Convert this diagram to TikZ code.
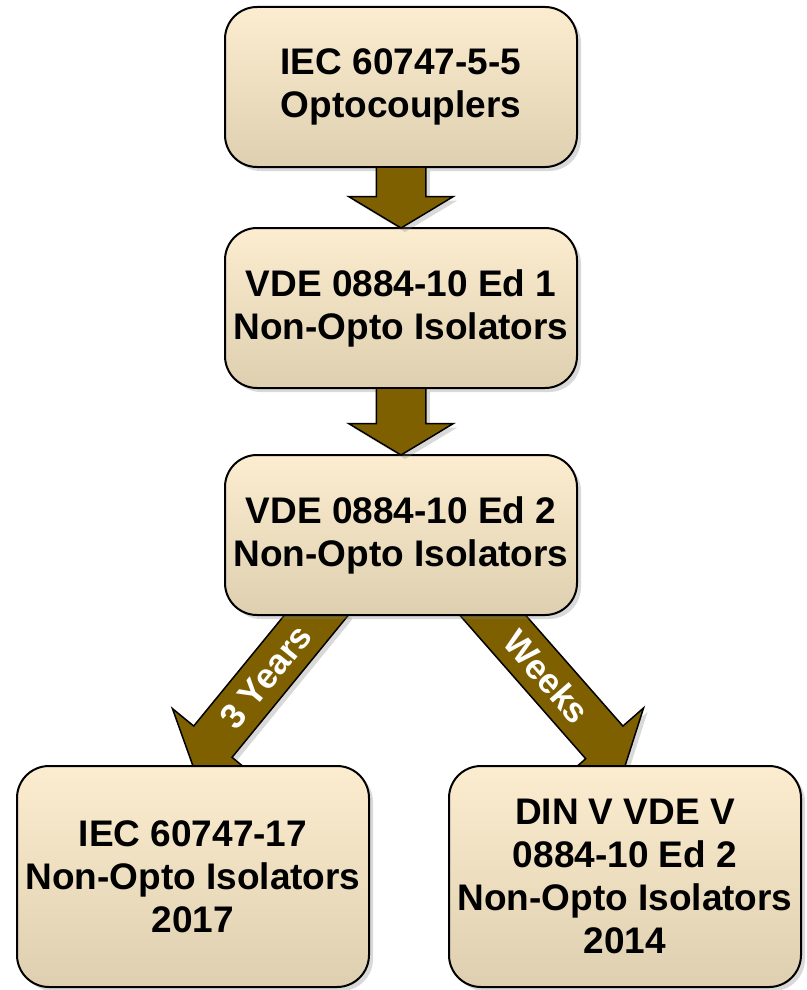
\documentclass[tikz,border=0pt]{standalone}
\usepackage{fontspec}
\setmainfont{Liberation Sans}
\usetikzlibrary{shapes.arrows, positioning, calc, shadows}
\definecolor{boxtop}{RGB}{253,237,208}
\definecolor{boxmid}{RGB}{246,232,203}
\definecolor{boxbottom}{RGB}{221,207,176}
\definecolor{olivearrow}{RGB}{127,96,0}
\pgfdeclarelayer{back}
\pgfsetlayers{back,main}

\begin{document}
\begin{tikzpicture}[x=1pt, y=-1pt,
	stdbox/.style={rectangle, rounded corners=32pt, draw=black, line width=2pt, outer sep=0pt,
		top color=boxtop, middle color=boxmid, bottom color=boxbottom,
		minimum width=352pt, minimum height=160pt, align=center,
		font=\fontsize{37}{43}\selectfont\bfseries,
		drop shadow={opacity=0.3, shadow xshift=4pt, shadow yshift=-4pt}},
	tallbox/.style={stdbox, minimum height=221pt},
	bigarrow/.style={single arrow, draw=black, line width=1.5pt, fill=olivearrow,
		inner xsep=0pt, inner ysep=24pt, outer sep=0pt,
		single arrow head extend=27.5pt, single arrow tip angle=118,
		drop shadow={opacity=0.3, shadow xshift=4pt, shadow yshift=-4pt}},
	tag/.style={text=white, font=\fontsize{35}{38}\selectfont\bfseries, inner sep=0pt}
	]
	\useasboundingbox (0,0) rectangle (806,990);

	\node[stdbox] (opto) at (401,87) {IEC 60747-5-5\\Optocouplers};
	\node[stdbox, below=61pt of opto] (ed1) {VDE 0884-10 Ed 1\\Non-Opto Isolators};
	\node[stdbox, below=67pt of ed1] (ed2) {VDE 0884-10 Ed 2\\Non-Opto Isolators};
	\node[tallbox, below=151pt of ed2, xshift=-208pt] (iec17) {IEC 60747-17\\Non-Opto Isolators\\2017};
	\node[tallbox, below=151pt of ed2, xshift=224pt] (dinv) {DIN V VDE V\\0884-10 Ed 2\\Non-Opto Isolators\\2014};

	% straight down
	\node[bigarrow, rotate=-90, minimum height=61pt, anchor=tail] (down1) at (opto.south) {};
	\node[bigarrow, rotate=-90, minimum height=67pt, anchor=tail] (down2) at (ed1.south) {};

	% split, tails hidden under ed2
	\coordinate (l0) at ($(ed2.south west)!0.26!(ed2.south east)$);
	\coordinate (r0) at ($(ed2.south west)!0.76!(ed2.south east)$);
	\coordinate (l1) at ($(l0)!-20pt!(iec17.north)$);
	\coordinate (r1) at ($(r0)!-20pt!(dinv.north)$);
	\begin{pgfonlayer}{back}
		\path let \p1=($(iec17.north)-(l1)$) in
			node[bigarrow, rotate={atan2(\y1,\x1)}, minimum height={veclen(\x1,\y1)}, anchor=tail] (left3) at (l1) {};
		\path let \p1=($(dinv.north)-(r1)$) in
			node[bigarrow, rotate={atan2(\y1,\x1)}, minimum height={veclen(\x1,\y1)}, anchor=tail] (right3) at (r1) {};
	\end{pgfonlayer}
	\path (l0) -- node[tag, sloped, pos=0.41] (years) {3 Years} (iec17.north);
	\path (r0) -- node[tag, sloped, pos=0.41] (weeks) {Weeks} (dinv.north);
\end{tikzpicture}
\end{document}
